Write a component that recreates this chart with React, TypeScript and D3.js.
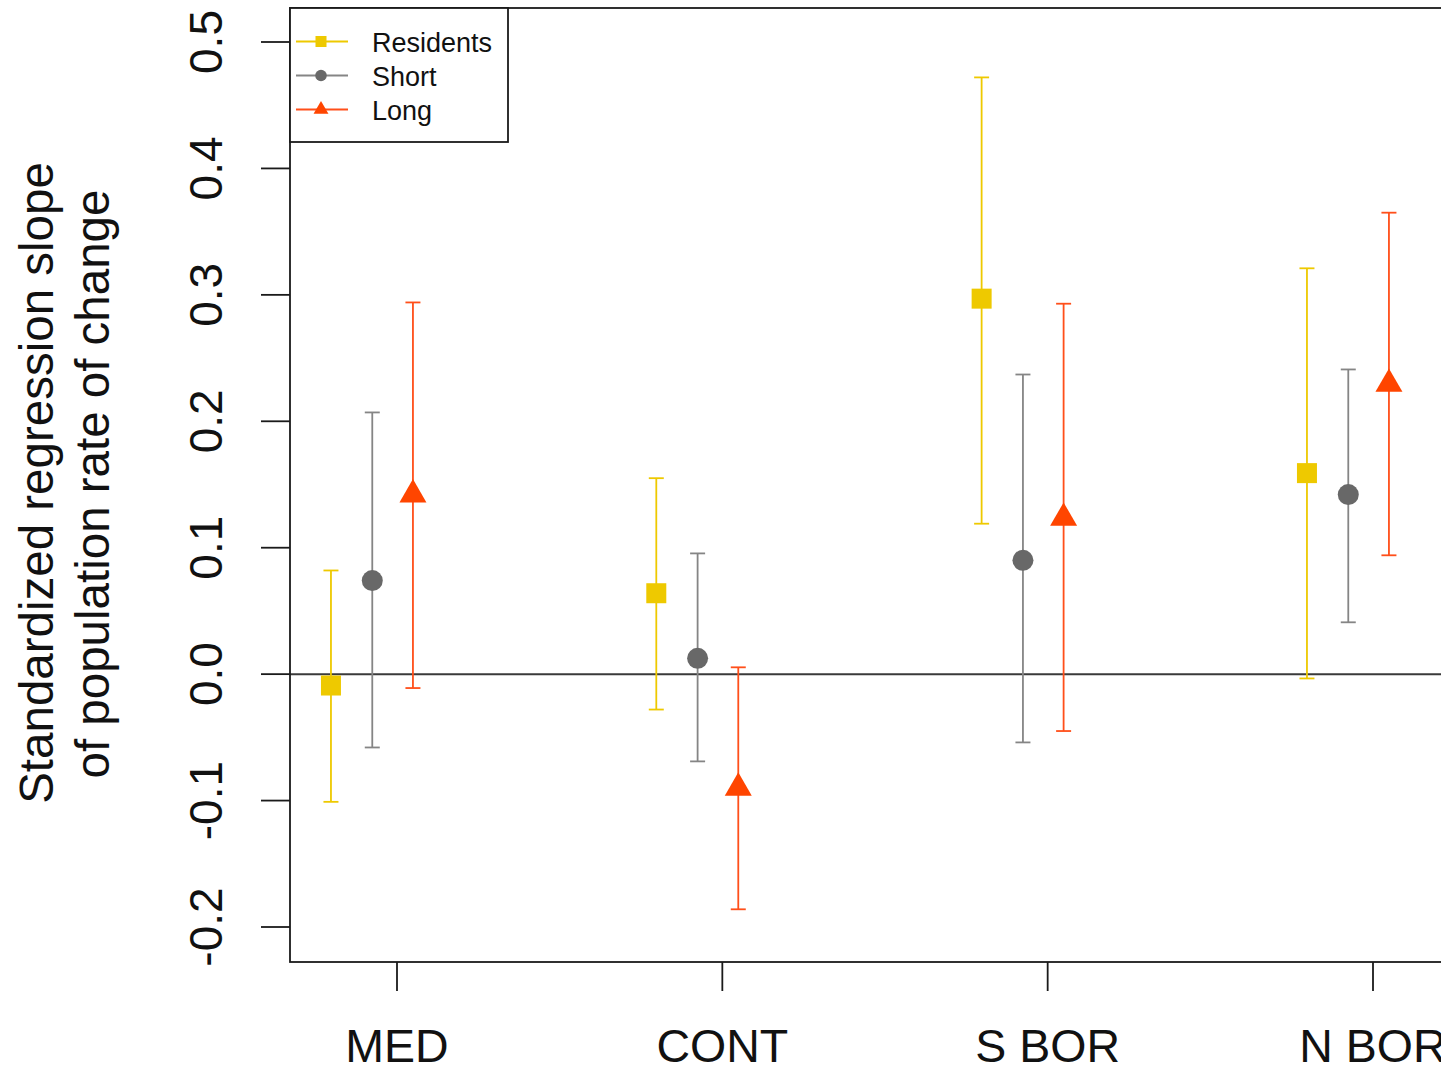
import React from "react";
import * as d3 from "d3";

// Regions (x axis groups)
const regions = ["MED", "CONT", "S BOR", "N BOR"];

// Series names
const seriesNames = ["Residents", "Short", "Long"];

// Point estimates per series, in region order
const residentsEst = [-0.009, 0.064, 0.297, 0.159];
const shortEst = [0.074, 0.0125, 0.09, 0.142];
const longEst = [0.142, -0.09, 0.1235, 0.2295];

// Lower / upper confidence limits
const residentsLo = [-0.101, -0.028, 0.119, -0.0034];
const residentsHi = [0.082, 0.155, 0.472, 0.321];
const shortLo = [-0.058, -0.069, -0.054, 0.041];
const shortHi = [0.207, 0.0955, 0.237, 0.241];
const longLo = [-0.011, -0.186, -0.045, 0.094];
const longHi = [0.294, 0.0054, 0.293, 0.365];

// Y tick values
const yTicks = [-0.2, -0.1, 0.0, 0.1, 0.2, 0.3, 0.4, 0.5];

const W = 1441;
const H = 1068;
const box = { left: 290, top: 8, bottom: 962, right: 1470 };

const styles = [
  { name: seriesNames[0], bar: "#EEC900", fill: "#EEC900", shape: "square", offset: -0.203, est: residentsEst, lo: residentsLo, hi: residentsHi },
  { name: seriesNames[1], bar: "#858585", fill: "#686868", shape: "circle", offset: -0.076, est: shortEst, lo: shortLo, hi: shortHi },
  { name: seriesNames[2], bar: "#FF4F1A", fill: "#FF4500", shape: "triangle", offset: 0.049, est: longEst, lo: longLo, hi: longHi },
];

const FONT = "'Liberation Sans', Arial, sans-serif";

// tick labels with a plain hyphen for negatives
const fmtTick = (v: number) => d3.format(".1f")(v).replace("\u2212", "-");

function Marker({ shape, x, y, fill, scale = 1 }: { shape: string; x: number; y: number; fill: string; scale?: number }) {
  if (shape === "square") {
    const s = 20 * scale;
    return <rect x={x - s / 2} y={y - s / 2} width={s} height={s} fill={fill} />;
  }
  if (shape === "circle") {
    return <circle cx={x} cy={y} r={10.5 * scale} fill={fill} />;
  }
  const side = 27 * scale;
  const path = d3.symbol(d3.symbolTriangle, (Math.sqrt(3) / 4) * side * side)();
  return <path d={path || ""} transform={`translate(${x},${y})`} fill={fill} />;
}

export default function App() {
  const x = d3.scaleLinear().domain([0, 3]).range([397, 1373]);
  const y = d3.scaleLinear().domain([-0.2, 0.5]).range([927, 42]);
  const cap = 7.5;

  return (
    <svg
      width={W}
      height={H}
      style={{ position: "absolute", left: 0, top: 0, background: "#fff" }}
      fontFamily={FONT}
    >
      <rect x={0} y={0} width={W} height={H} fill="#fff" />

      {/* zero reference line */}
      <line x1={box.left} x2={W} y1={y(0)} y2={y(0)} stroke="#3a3a3a" strokeWidth={2} />

      {/* error bars and markers */}
      {styles.map((s) =>
        regions.map((r, i) => {
          const cx = x(i + s.offset);
          return (
            <g key={s.name + r}>
              <line x1={cx} x2={cx} y1={y(s.lo[i])} y2={y(s.hi[i])} stroke={s.bar} strokeWidth={1.8} />
              <line x1={cx - cap} x2={cx + cap} y1={y(s.lo[i])} y2={y(s.lo[i])} stroke={s.bar} strokeWidth={1.8} />
              <line x1={cx - cap} x2={cx + cap} y1={y(s.hi[i])} y2={y(s.hi[i])} stroke={s.bar} strokeWidth={1.8} />
              <Marker shape={s.shape} x={cx} y={y(s.est[i])} fill={s.fill} />
            </g>
          );
        })
      )}

      {/* plot frame */}
      <rect
        x={box.left}
        y={box.top}
        width={box.right - box.left}
        height={box.bottom - box.top}
        fill="none"
        stroke="#1a1a1a"
        strokeWidth={1.8}
      />

      {/* y axis */}
      {yTicks.map((t) => (
        <g key={t}>
          <line x1={box.left - 29} x2={box.left} y1={y(t)} y2={y(t)} stroke="#1a1a1a" strokeWidth={1.8} />
          <text
            transform={`translate(222,${y(t)}) rotate(-90)`}
            textAnchor="middle"
            fontSize={46}
            fill="#111"
          >
            {fmtTick(t)}
          </text>
        </g>
      ))}

      {/* x axis */}
      {regions.map((r, i) => (
        <g key={r}>
          <line x1={x(i)} x2={x(i)} y1={box.bottom} y2={box.bottom + 29} stroke="#1a1a1a" strokeWidth={1.8} />
          <text x={x(i)} y={1062} textAnchor="middle" fontSize={46.5} fill="#111">
            {r}
          </text>
        </g>
      ))}

      {/* y axis title */}
      <text transform={`translate(53,483) rotate(-90)`} textAnchor="middle" fontSize={47.5} fill="#111">
        Standardized regression slope
      </text>
      <text transform={`translate(109,484) rotate(-90)`} textAnchor="middle" fontSize={47.5} fill="#111">
        of population rate of change
      </text>

      {/* legend */}
      <rect x={290} y={8} width={218} height={134} fill="#fff" stroke="#1a1a1a" strokeWidth={1.8} />
      {styles.map((s, k) => {
        const ly = 41.5 + k * 34;
        return (
          <g key={s.name}>
            <line x1={296} x2={348} y1={ly} y2={ly} stroke={s.bar} strokeWidth={1.8} />
            <Marker shape={s.shape} x={321} y={ly} fill={s.fill} scale={0.55} />
            <text x={372} y={ly + 10} fontSize={27} fill="#111">
              {s.name}
            </text>
          </g>
        );
      })}
    </svg>
  );
}
